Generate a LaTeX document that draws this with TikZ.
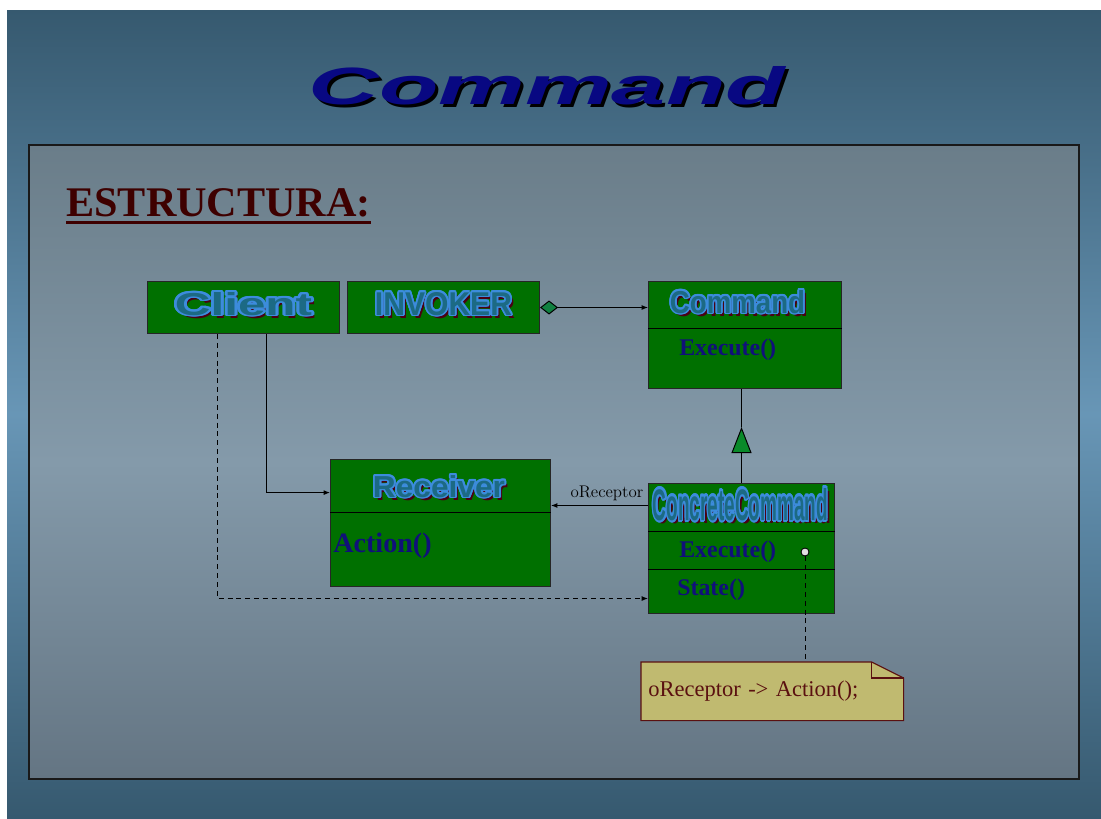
\documentclass[tikz,border=0pt]{standalone}
\usepackage{fontspec}
\usepackage{contour}
\newfontfamily\arialfont{Liberation Sans}
\newfontfamily\timesfont{Liberation Serif}
\usetikzlibrary{arrows.meta, backgrounds}
\contourlength{0.06em}
\definecolor{slidetop}{RGB}{54,89,111}
\definecolor{slidemid}{RGB}{104,150,182}
\definecolor{panetop}{RGB}{106,125,137}
\definecolor{panemid}{RGB}{132,154,170}
\definecolor{panebot}{RGB}{100,117,131}
\definecolor{boxgreen}{RGB}{0,112,0}
\definecolor{navytext}{RGB}{16,16,122}
\definecolor{titleblue}{RGB}{8,8,130}
\definecolor{darkred}{RGB}{62,0,0}
\definecolor{hdrline}{RGB}{60,140,220}
\definecolor{hdrfill}{RGB}{28,106,132}
\definecolor{hdrshade}{RGB}{74,0,20}
\definecolor{notefill}{RGB}{192,186,112}
\definecolor{noteline}{RGB}{90,16,16}
\definecolor{diagreen}{RGB}{16,128,64}
\definecolor{trigreen}{RGB}{10,138,42}
\tikzset{>={Latex[length=4.5pt,width=3.5pt]}}
\tikzset{
  box/.style={draw=black!85, fill=boxgreen, line width=0.7pt, anchor=north west, inner sep=0pt},
  hdr/.style={anchor=base, inner sep=0pt, text=hdrfill, font=\arialfont\bfseries},
  hdrshadow/.style={hdr, text=hdrshade},
  method/.style={anchor=base west, inner sep=0pt, text=navytext, font=\timesfont\bfseries\fontsize{17pt}{20pt}\selectfont},
  conn/.style={draw=black, line width=0.7pt},
  dashconn/.style={conn, dash pattern=on 3.5pt off 2.8pt},
}
% class title with shadow: name, position, width, height, text
\newcommand{\umltitle}[5]{%
  \node[hdrshadow, xshift=0.075cm, yshift=-0.075cm] (#1-sh) at (#2) {\resizebox{#3}{#4}{#5}};
  \node[hdr] (#1) at (#2) {\resizebox{#3}{#4}{\contour{hdrline}{#5}}};}

\begin{document}
\begin{tikzpicture}[x=0.025cm, y=-0.025cm]
	\useasboundingbox (0,0) rectangle (1101,818);
	% slide and panel
	\begin{scope}[on background layer]
		\fill[white] (0,0) rectangle (1101,818);
		\shade[top color=slidetop, bottom color=slidetop, middle color=slidemid] (7,10) rectangle (1101,818);
		\shade[top color=panetop, bottom color=panebot, middle color=panemid] (29,145) rectangle (1079,779);
		\draw[black!90, line width=0.8pt] (29,145) rectangle (1079,779);
	\end{scope}
	\node[anchor=base, inner sep=0pt, text=black] (title-sh) at (550,107)
		{\resizebox{11.9cm}{0.95cm}{\arialfont\bfseries\itshape Command}};
	\node[anchor=base, inner sep=0pt, text=titleblue] (title) at (547,104)
		{\resizebox{11.9cm}{0.95cm}{\arialfont\bfseries\itshape Command}};
	\node[anchor=base west, inner sep=0pt, text=darkred, font=\timesfont\bfseries\fontsize{30pt}{36pt}\selectfont] (estr) at (66,216) {ESTRUCTURA:};
	\draw[darkred, line width=1.7pt] ([yshift=-0.16cm]estr.base west) -- ([yshift=-0.16cm]estr.base east);

	% boxes
	\node[box, minimum width=4.8cm, minimum height=1.3cm] (client) at (147,281) {};
	\node[box, minimum width=4.8cm, minimum height=1.3cm] (invoker) at (347,281) {};
	\node[box, minimum width=4.825cm, minimum height=2.675cm] (command) at (648,281) {};
	\node[box, minimum width=5.5cm, minimum height=3.175cm] (receiver) at (330,459) {};
	\node[box, minimum width=4.65cm, minimum height=3.25cm] (concrete) at (648,483) {};
	\draw[conn] ([yshift=-1.175cm]command.north west) -- ([yshift=-1.175cm]command.north east);
	\draw[conn] ([yshift=-1.325cm]receiver.north west) -- ([yshift=-1.325cm]receiver.north east);
	\draw[conn] ([yshift=-1.2cm]concrete.north west) -- ([yshift=-1.2cm]concrete.north east);
	\draw[conn] ([yshift=-2.15cm]concrete.north west) -- ([yshift=-2.15cm]concrete.north east);

	% class names
	\umltitle{client-t}{243.5,315}{3.425cm}{0.575cm}{Client}
	\umltitle{invoker-t}{443.5,315}{3.425cm}{0.575cm}{INVOKER}
	\umltitle{command-t}{737.5,313}{3.375cm}{0.575cm}{Command}
	\umltitle{receiver-t}{439,497}{3.3cm}{0.55cm}{Receiver}
	\umltitle{concrete-t}{740.5,520}{4.375cm}{0.8cm}{ConcreteCommand}

	% operations
	\node[method] (cmd-exec) at (679,355) {Execute()};
	\node[method, font=\timesfont\bfseries\fontsize{20pt}{24pt}\selectfont] (rcv-action) at (333,552) {Action()};
	\node[method] (cc-exec) at (679,557) {Execute()};
	\node[method] (cc-state) at (677,595) {State()};

	% relations
	\draw[conn, {Diamond[length=0.45cm,width=0.35cm,fill=diagreen]}->] (invoker.east) -- (invoker.east -| command.west);
	\path (concrete.north) ++(0,-56) coordinate (apex);
	\draw[conn, -{Triangle[length=0.65cm,width=0.5cm,fill=trigreen]}] (concrete.north) -- (apex);
	\draw[conn] (apex) -- (apex |- command.south);
	\draw[conn, ->] ([yshift=1.075cm]concrete.west) coordinate (assoc) -- (assoc -| receiver.east)
		node[pos=0, above left, inner sep=3pt, font=\fontsize{12pt}{14pt}\selectfont] (assoc-lbl) {oReceptor};
	\draw[conn, ->] ([xshift=0.575cm]client.south) |- ([yshift=0.76cm]receiver.west);
	\draw[dashconn, ->] ([xshift=-0.65cm]client.south) |- ([yshift=-1.25cm]concrete.west);

	% note
	\node[circle, draw=black, fill=black!12, line width=0.6pt, minimum size=0.2cm, inner sep=0pt] (dot) at (805,552) {};
	\node[anchor=north west, minimum width=6.55cm, minimum height=1.45cm, text width=6.2cm, inner xsep=0.175cm, align=left,
		text=noteline, font=\timesfont\fontsize{16pt}{19pt}\selectfont] (note) at (641,662) {oReceptor -> Action();};
	\begin{scope}[on background layer]
		\filldraw[fill=notefill, draw=noteline, line width=0.8pt] (note.north west) -- ([xshift=-0.8cm]note.north east)
			-- ([yshift=-0.4cm]note.north east) -- (note.south east) -- (note.south west) -- cycle;
	\end{scope}
	\draw[noteline, line width=0.8pt] ([xshift=-0.8cm]note.north east) |- ([yshift=-0.4cm]note.north east);
	\draw[dashconn] (dot) -- (dot |- note.north);
\end{tikzpicture}
\end{document}
